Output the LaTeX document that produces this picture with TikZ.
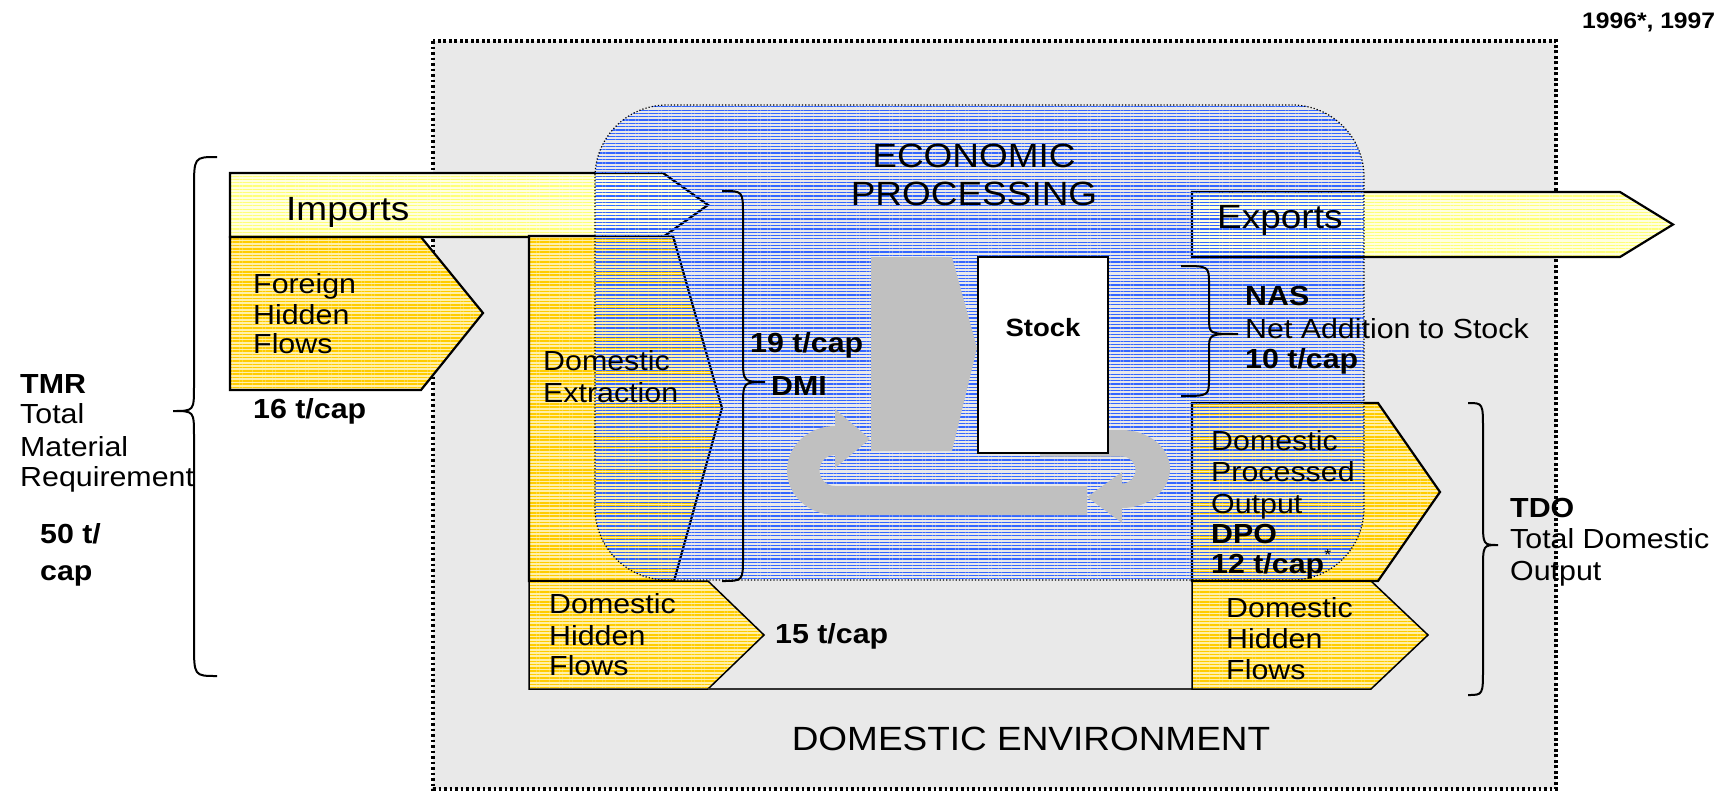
\documentclass[tikz,border=0pt]{standalone}
\usepackage{fontspec}
\setmainfont{Liberation Sans}[FakeStretch=1.1]
\usetikzlibrary{patterns.meta}

\definecolor{envgray}{RGB}{233,233,233}
\definecolor{procgray}{RGB}{192,192,192}
\definecolor{econblue}{RGB}{51,102,255}
\definecolor{gold}{RGB}{255,204,0}
\definecolor{goldpale}{RGB}{255,240,170}
\definecolor{tradepale}{RGB}{255,255,224}
\definecolor{tradeline}{RGB}{255,255,120}

\newcommand\txtbig{\fontsize{33.6}{38}\selectfont}
\newcommand\txtbody{\fontsize{27.6}{31}\selectfont}
\newcommand\txtstock{\fontsize{25}{28}\selectfont\bfseries}
\newcommand\txtyear{\fontsize{22.4}{26}\selectfont\bfseries}

\tikzset{
  envbox/.style={fill=envgray, draw=black, line width=3.4pt,
    dash pattern=on 2.6pt off 2.9pt},
  tradeflow/.style={draw=black, line width=2.2pt, preaction={fill=tradepale},
    pattern={Lines[angle=0,distance=3.3pt,line width=1.2pt]}, pattern color=tradeline},
  goldflow/.style={draw=black, line width=2.2pt, preaction={fill=goldpale},
    pattern={Lines[angle=0,distance=3.3pt,line width=1.5pt]}, pattern color=gold},
  thinflow/.style={goldflow, line width=1.5pt},
  econbox/.style={pattern={Lines[angle=0,distance=3.3pt,line width=1.2pt]},
    pattern color=econblue},
  econedge/.style={draw=black, line width=1.2pt, dash pattern=on 1.2pt off 2pt},
  procarrow/.style={fill=procgray},
  stockbox/.style={fill=white, draw=black, line width=2.2pt},
  bracestyle/.style={draw=black, line width=2pt},
  edgeline/.style={draw=black!80, line width=1.5pt},
  lbl/.style={anchor=base west, inner sep=0pt, font=\txtbody},
  lblb/.style={lbl, font=\txtbody\bfseries},
  big/.style={inner sep=0pt, font=\txtbig},
}

% curly brace: ends at x=#1, spine at x=#2, tip at x=#3,
% from y=#4 to y=#5, tip at y=#6, end bend #7, tip bend #8
\newcommand\flowbrace[8]{%
  \draw[bracestyle] (#1,#4) .. controls (#2,#4) .. (#2,{#4+#7})
    -- (#2,{#6-#8}) .. controls (#2,#6) .. (#3,#6)
    .. controls (#2,#6) .. (#2,{#6+#8})
    -- (#2,{#5-#7}) .. controls (#2,#5) .. (#1,#5);}

\begin{document}
\begin{tikzpicture}[x=1pt,y=-1pt]
\useasboundingbox (0,0) rectangle (1727,790);

% domestic environment
\path[envbox] (433,41) rectangle (1556,789);

% input flows
\path[tradeflow] (230,173) -- (663,173) -- (708,205) -- (663,237) -- (230,237) -- cycle;
\path[goldflow] (230,237) -- (421,237) -- (483,313) -- (421,390) -- (230,390) -- cycle;
\path[goldflow] (529,236) -- (673,236) -- (722,408) -- (674,581) -- (529,581) -- cycle;
\path[thinflow] (529,581) -- (708,581) -- (764,635) -- (708,689) -- (529,689) -- cycle;
\draw[edgeline] (708,689) -- (1192,689);

% output flows
\path[tradeflow] (1192,192) -- (1620,192) -- (1673,224.5) -- (1620,257) -- (1192,257) -- cycle;
\path[goldflow] (1192,403) -- (1378,403) -- (1440,492) -- (1378,581) -- (1192,581) -- cycle;
\path[thinflow] (1192,581) -- (1371,581) -- (1428,635) -- (1371,689) -- (1192,689) -- cycle;

% economic processing
\path[econbox, rounded corners=72pt] (595,105) rectangle (1364,580);
\path[econedge, rounded corners=72pt] (595,105) rectangle (1364,580);

% material throughput and recycling loops
\path[procarrow] (871,257) -- (952,257) -- (977,348) -- (952,451) -- (871,451) -- cycle;
\path[procarrow] (1087,486) -- (835,486)
  .. controls (826.4,486) and (819.5,479.1) .. (819.5,470.5)
  .. controls (819.5,461.9) and (826.4,455) .. (835,455)
  -- (835,468) -- (870,439) -- (835,409) -- (835,426)
  .. controls (808.5,426) and (787,445.9) .. (787,470.5)
  .. controls (787,495.1) and (808.5,515) .. (835,515)
  -- (1087,515) -- cycle;
\path[procarrow] (1040,430) -- (1122,430)
  .. controls (1148.5,430) and (1170,447.5) .. (1170,469)
  .. controls (1170,490.5) and (1148.5,508) .. (1122,508)
  -- (1122,523) -- (1087,497) -- (1122,472) -- (1122,483.5)
  .. controls (1129.5,483.5) and (1135.5,477.5) .. (1135.5,470)
  .. controls (1135.5,462.5) and (1129.5,456.5) .. (1122,456.5)
  -- (1040,456.5) -- cycle;
\path[stockbox] (978,257) rectangle (1108,453);

% braces
\flowbrace{217}{194}{173}{157}{676}{411}{33}{25}
\flowbrace{722}{743}{765}{191}{581}{382}{24}{25}
\flowbrace{1181}{1209}{1238}{266}{396}{334}{18}{16}
\flowbrace{1468}{1483}{1498}{403}{695}{545}{27}{25}

% labels
\node[anchor=base west, inner sep=0pt, font=\txtyear] (year) at (1582,28) {1996*, 1997};
\node[big, anchor=base] (econA) at (974,167) {ECONOMIC};
\node[big, anchor=base] (econB) at (974,205) {PROCESSING};
\node[big, anchor=base west] (imp) at (286,220) {Imports};
\node[big, anchor=base west] (exp) at (1217,228) {Exports};
\node[big, anchor=base] (env) at (1031,750) {DOMESTIC ENVIRONMENT};

\node[lbl] (fhfA) at (253,293) {Foreign};
\node[lbl] (fhfB) at (253,324) {Hidden};
\node[lbl] (fhfC) at (253,353) {Flows};
\node[lblb] (fhfV) at (253,418) {16 t/cap};

\node[lbl] (deA) at (543,370) {Domestic};
\node[lbl] (deB) at (543,402) {Extraction};
\node[lblb] (dmiV) at (750,352) {19 t/cap};
\node[lblb] (dmi) at (771,395) {DMI};

\node[anchor=base, inner sep=0pt, font=\txtstock] (stock) at (1043,336) {Stock};

\node[lblb] (nas) at (1245,305) {NAS};
\node[lbl] (nasA) at (1245,338) {Net Addition to Stock};
\node[lblb] (nasV) at (1245,368) {10 t/cap};

\node[lbl] (dpoA) at (1211,450) {Domestic};
\node[lbl] (dpoB) at (1211,481) {Processed};
\node[lbl] (dpoC) at (1211,513) {Output};
\node[lblb] (dpo) at (1211,543) {DPO};
\node[lblb] (dpoV) at (1211,573) {12 t/cap\raisebox{0.45em}{\fontsize{16}{16}\selectfont\mdseries *}};

\node[lbl] (rdhA) at (1226,617) {Domestic};
\node[lbl] (rdhB) at (1226,648) {Hidden};
\node[lbl] (rdhC) at (1226,679) {Flows};

\node[lbl] (ldhA) at (549,613) {Domestic};
\node[lbl] (ldhB) at (549,645) {Hidden};
\node[lbl] (ldhC) at (549,675) {Flows};
\node[lblb] (ldhV) at (775,643) {15 t/cap};

\node[lblb] (tdo) at (1510,517) {TDO};
\node[lbl] (tdoA) at (1510,548) {Total Domestic};
\node[lbl] (tdoB) at (1510,580) {Output};

\node[lblb] (tmr) at (20,393) {TMR};
\node[lbl] (tmrA) at (20,423) {Total};
\node[lbl] (tmrB) at (20,456) {Material};
\node[lbl] (tmrC) at (20,486) {Requirement};
\node[lblb] (tmrV) at (40,543) {50 t/};
\node[lblb] (tmrW) at (40,580) {cap};
\end{tikzpicture}
\end{document}
